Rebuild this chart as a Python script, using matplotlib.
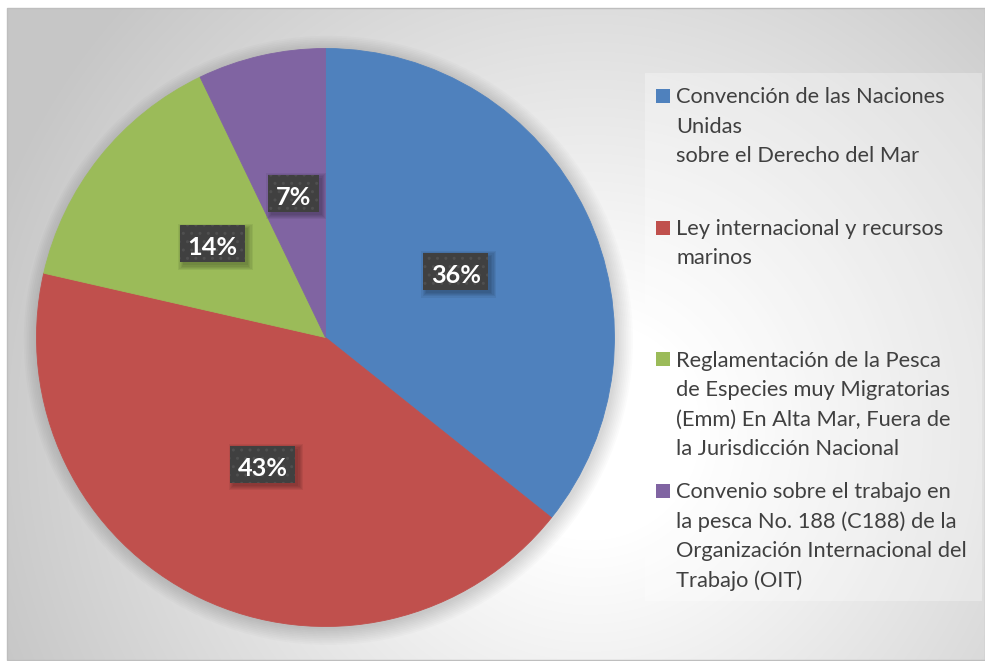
import matplotlib
matplotlib.use("Agg")
import matplotlib.pyplot as plt
import numpy as np
from matplotlib.patches import Rectangle, Circle

# ---------------- data ----------------
labels = [
    "Convención de las Naciones\nUnidas\nsobre el Derecho del Mar",
    "Ley internacional y recursos\nmarinos",
    "Reglamentación de la Pesca\nde Especies muy Migratorias\n(Emm) En Alta Mar, Fuera de\nla Jurisdicción Nacional",
    "Convenio sobre el trabajo en\nla pesca No. 188 (C188) de la\nOrganización Internacional del\nTrabajo (OIT)",
]
values = [5, 6, 2, 1]
colors = ["#4F81BD", "#C0504D", "#9BBB59", "#8064A2"]

FONT = ["Lato", "DejaVu Sans"]
W, H = 985, 661
fig = plt.figure(figsize=(W / 100, H / 100), dpi=100)
fig.patch.set_facecolor("white")
renderer = fig.canvas.get_renderer()

# ---------------- background (pixel coords) ----------------
bg = fig.add_axes([0, 0, 1, 1], zorder=0)
bg.set_xlim(0, W)
bg.set_ylim(H, 0)
bg.axis("off")
x0, x1, y0, y1 = 7, W, 8, 660
yy, xx = np.mgrid[y0:y1, x0:x1]
cx, cy = 590, 430
r = np.hypot(xx - cx, yy - cy)
t = np.clip((r - 110) / 520.0, 0, 1)
g = 1.0 - (1.0 - 0.78) * t
img = np.dstack([g, g, g])
bg.imshow(img, extent=(x0, x1, y1, y0), origin="upper", interpolation="bilinear", zorder=0)
bg.add_patch(Rectangle((x0, y0), x1 - x0, y1 - y0, fill=False, ec="#BEBEBE", lw=1.0, zorder=1))
# legend panel
bg.add_patch(Rectangle((645, 73), 337, 528, fc="white", alpha=0.3, ec="none", zorder=2))

# ---------------- pie ----------------
cxp, cyp, R = 325.5, 337.5, 289
ax = fig.add_axes([(cxp - R) / W, (H - cyp - R) / H, 2 * R / W, 2 * R / H], zorder=2)
ax.set_facecolor("none")
# soft shadow around pie
for k in range(10):
    ax.add_patch(Circle((0.01, -0.01), 1 + 0.006 * k, color="black", alpha=0.016, lw=0, zorder=0, clip_on=False))
wedges, texts, autotexts = ax.pie(
    values, colors=colors, startangle=90, counterclock=False,
    autopct="%1.0f%%", pctdistance=0.5,
    wedgeprops=dict(linewidth=0.6, zorder=2),
)
for w_, c_ in zip(wedges, colors):
    w_.set_edgecolor(c_)
ax.set_xlim(-1, 1)
ax.set_ylim(-1, 1)
ax.set_aspect("equal")

# ---------------- overlay (labels + legend) ----------------
ov = fig.add_axes([0, 0, 1, 1], zorder=5)
ov.set_xlim(0, W)
ov.set_ylim(H, 0)
ov.axis("off")
ov.set_facecolor("none")

def fit_size(text, target_px, weight="normal", base=16):
    tt = fig.text(0, 0, text, fontsize=base, family=FONT, weight=weight)
    w = tt.get_window_extent(renderer=renderer).width
    tt.remove()
    return base * target_px / w

lab_fs = fit_size("36%", 50, weight="bold")
for at in autotexts:
    s = at.get_text()
    px, py = ax.transData.transform(at.get_position())
    py = H - py
    at.set_visible(False)
    tt = ov.text(px, py + 8, s, color="white", fontsize=lab_fs, family=FONT,
                 weight="bold", ha="center", va="baseline", zorder=8)
    tw = tt.get_window_extent(renderer=renderer).width
    bw, bh = tw + 15, 37
    bx, by = px - bw / 2, py - 3.5 - bh / 2
    # blurred shadow
    for k in range(5):
        e = k * 1.2
        ov.add_patch(Rectangle((bx + 3 - e, by + 3 - e), bw + 2 * e, bh + 2 * e,
                               fc="black", alpha=0.06, lw=0, zorder=6))
    ov.add_patch(Rectangle((bx, by), bw, bh, fc="#404040", ec="#4F4F4F", lw=0,
                           hatch="..", zorder=7))

# legend
leg_fs = fit_size("Convención de las Naciones", 271)
base0, step, pitch = 103.3, 131.7, 29.4
for i, (lab, col) in enumerate(zip(labels, colors)):
    b = base0 + i * step
    ov.add_patch(Rectangle((656, b - 14.5), 14, 14, fc=col, ec="none", zorder=7))
    for j, line in enumerate(lab.split("\n")):
        ov.text(676, b + j * pitch, line, fontsize=leg_fs, family=FONT, color="#404040",
                ha="left", va="baseline", zorder=8)

fig.savefig("out.png", dpi=100)
